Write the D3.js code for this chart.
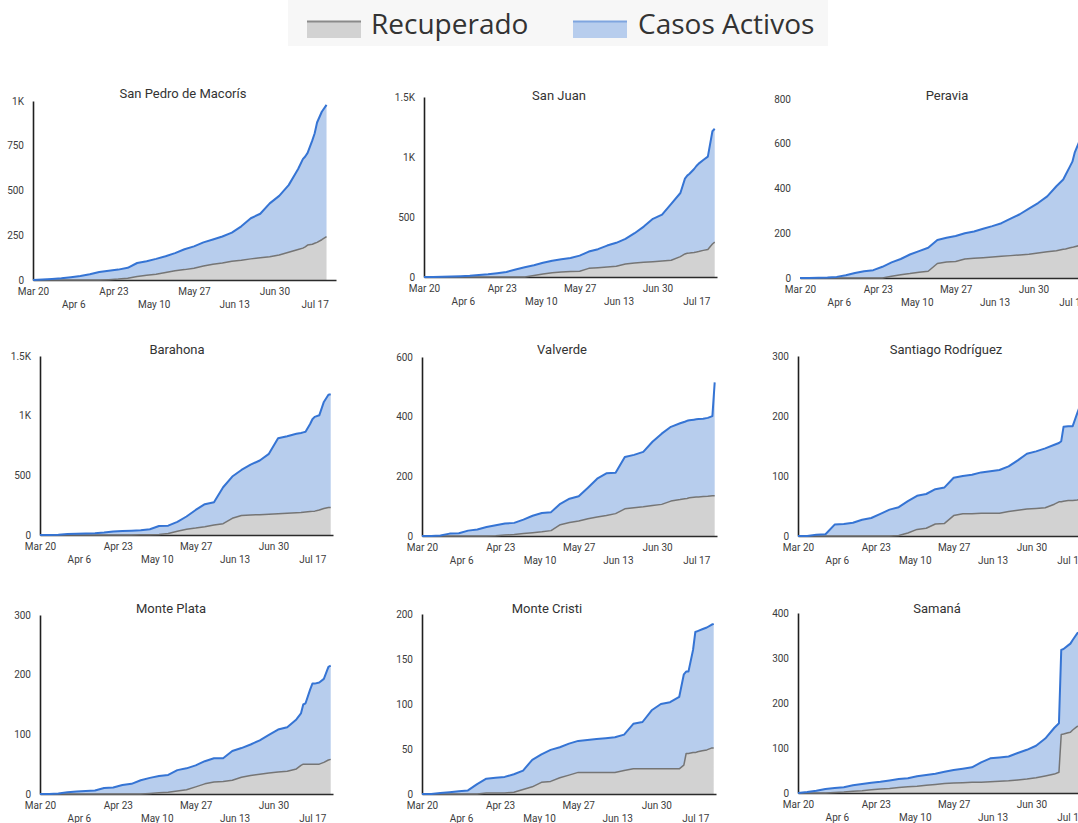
<!DOCTYPE html>
<html><head><meta charset="utf-8">
<script src="https://cdn.jsdelivr.net/npm/d3@7"></script>
<style>html,body{margin:0;padding:0;background:#fff;overflow:hidden}svg{display:block}</style>
</head><body>
<svg id="c" width="1078" height="823"></svg>
<script>
// ---------- DATA ----------
const dates = ["2020-03-20","2020-03-24","2020-03-28","2020-04-01","2020-04-05","2020-04-09","2020-04-13","2020-04-17",
  "2020-04-21","2020-04-25","2020-04-29","2020-05-03","2020-05-07","2020-05-11","2020-05-15","2020-05-19",
  "2020-05-23","2020-05-27","2020-05-31","2020-06-04","2020-06-08","2020-06-12","2020-06-16","2020-06-20",
  "2020-06-24","2020-06-28","2020-07-02","2020-07-06","2020-07-10","2020-07-12","2020-07-13","2020-07-14",
  "2020-07-16","2020-07-17","2020-07-18","2020-07-20","2020-07-22","2020-07-24","2020-07-25"];

const xTickDates = ["2020-03-20","2020-04-06","2020-04-23","2020-05-10","2020-05-27","2020-06-13","2020-06-30","2020-07-17"];
const seriesNames = ["Recuperado","Casos Activos"];
const provincias = ["San Pedro de Macorís","San Juan","Peravia","Barahona","Valverde","Santiago Rodríguez","Monte Plata","Monte Cristi","Samaná"];

const recSanPedro = [0,0,0,0,0,0,0,0,2,5,10,20,26,32,42,52,58,66,78,88,95,105,110,118,124,130,140,155,170,178,185,195,200,205,210,225,242,null,null];
const actSanPedro = [0,3,6,10,16,22,32,45,50,53,58,75,79,86,91,98,114,122,132,138,148,160,190,227,246,298,330,375,450,497,505,515,580,615,670,715,736,null,null];

const recSanJuan = [0,0,0,0,0,0,0,0,0,0,0,0,12,25,35,42,45,48,72,78,84,90,108,116,122,128,134,140,170,192,198,200,205,208,212,222,230,275,290];
const actSanJuan = [0,1,2,4,7,10,16,22,32,42,62,82,86,93,101,106,113,130,140,154,178,195,210,249,298,357,386,470,530,628,647,660,695,717,733,753,773,940,945];

const recPeravia = [0,0,0,0,0,0,0,0,0,0,8,15,20,26,30,65,72,74,85,88,91,94,97,100,103,106,112,117,122,126,128,130,135,137,140,145,148,150,152];
const actPeravia = [0,0,1,2,5,12,22,30,35,50,62,70,85,94,105,105,108,114,115,120,129,138,148,165,182,204,223,248,288,304,312,330,365,383,420,465,502,520,528];

const recBarahona = [0,0,0,0,0,0,0,0,0,0,0,2,3,4,12,32,48,58,70,84,95,140,163,168,170,174,178,182,186,188,190,192,196,198,200,210,222,230,230];
const actBarahona = [0,1,2,8,10,12,14,20,30,33,36,38,45,71,66,78,107,152,188,191,305,350,382,422,454,506,632,646,662,667,670,673,734,772,790,793,893,945,950];

const recValverde = [0,0,0,0,0,0,0,0,1,3,5,8,11,14,18,38,45,50,58,64,69,75,91,95,98,102,106,117,122,125,126,128,130,131,131,132,133,135,135];
const actValverde = [0,0,2,8,9,18,22,30,35,39,39,47,57,63,62,70,80,83,104,128,141,137,174,177,184,214,237,249,256,258,260,260,260,260,261,261,263,267,380];

const recSantiago = [0,0,0,0,0,0,0,0,0,0,0,1,5,11,13,20,21,34,37,37,38,38,38,41,43,45,46,47,53,57,57,58,59,59,59,60,62,63,63];
const actSantiago = [0,0,2,3,19,20,22,27,30,37,44,47,53,56,57,58,60,63,63,65,68,70,72,75,83,92,95,99,99,98,101,124,124,124,124,145,163,167,169];

const recMontePlata = [0,0,0,0,0,0,0,0,0,0,0,0,1,2,3,5,7,12,17,20,21,23,28,31,33,35,37,38,42,48,50,50,50,50,50,50,53,57,58];
const actMontePlata = [0,0,1,3,4,5,6,10,11,15,17,23,26,28,29,35,36,36,38,40,39,49,49,52,57,64,71,74,83,87,100,102,125,135,135,137,140,156,157];

const recMonteCristi = [0,0,0,0,0,0,0,1,1,1,2,5,8,13,14,18,21,24,24,24,24,24,26,28,28,28,28,28,28,32,45,45,46,46,47,48,49,51,51];
const actMonteCristi = [0,0,1,2,3,4,11,16,17,18,20,21,30,31,35,34,35,35,36,37,38,39,40,50,52,65,72,74,80,101,91,91,114,134,134,135,136,137,138];

const recSamana = [0,0,0,0,1,2,4,5,7,9,10,12,14,15,17,19,21,22,23,24,24,25,26,27,29,31,34,38,42,46,130,131,134,135,140,148,150,152,153];
const actSamana = [0,2,5,9,10,11,13,15,16,16,18,19,19,22,23,24,26,29,31,33,44,52,53,54,60,65,71,83,103,109,188,189,194,197,200,207,210,213,214];

const yTicksSanPedro = [0,250,500,750,1000];
const yTicksSanJuan = [0,500,1000,1500];
const yTicksPeravia = [0,200,400,600,800];
const yTicksBarahona = [0,500,1000,1500];
const yTicksValverde = [0,200,400,600];
const yTicksSantiago = [0,100,200,300];
const yTicksMontePlata = [0,100,200,300];
const yTicksMonteCristi = [0,50,100,150,200];
const yTicksSamana = [0,100,200,300,400];

// ---------- LAYOUT (positions only) ----------
const layout = [
  {axisX:33,  axisEnd:336,  baseY:280, topY:101, titleX:183, titleY:98,  yLine:true},
  {axisX:424, axisEnd:717,  baseY:277, topY:97,  titleX:559, titleY:100, yLine:true},
  {axisX:800, axisEnd:1093, baseY:278, topY:99,  titleX:947, titleY:100, yLine:false},
  {axisX:40,  axisEnd:333,  baseY:535, topY:356, titleX:177, titleY:354, yLine:true},
  {axisX:422, axisEnd:717,  baseY:536, topY:357, titleX:562, titleY:354, yLine:true},
  {axisX:798, axisEnd:1091, baseY:536, topY:356, titleX:946, titleY:354, yLine:true},
  {axisX:40,  axisEnd:333,  baseY:794, topY:615, titleX:171, titleY:613, yLine:true},
  {axisX:422, axisEnd:716,  baseY:794, topY:614, titleX:547, titleY:613, yLine:true},
  {axisX:798, axisEnd:1091, baseY:793, topY:613, titleX:937, titleY:613, yLine:true}
];

const charts = [
  {rec:recSanPedro, act:actSanPedro, ticks:yTicksSanPedro},
  {rec:recSanJuan, act:actSanJuan, ticks:yTicksSanJuan},
  {rec:recPeravia, act:actPeravia, ticks:yTicksPeravia},
  {rec:recBarahona, act:actBarahona, ticks:yTicksBarahona},
  {rec:recValverde, act:actValverde, ticks:yTicksValverde},
  {rec:recSantiago, act:actSantiago, ticks:yTicksSantiago},
  {rec:recMontePlata, act:actMontePlata, ticks:yTicksMontePlata},
  {rec:recMonteCristi, act:actMonteCristi, ticks:yTicksMonteCristi},
  {rec:recSamana, act:actSamana, ticks:yTicksSamana}
].map((c,i)=>Object.assign(c,{name:provincias[i]}));

// ---------- STYLE ----------
const grayFill = "#d2d2d2", grayLine = "#757575";
const blueFill = "#b7cded", blueLine = "#3574d4";
const textCol = "#3c3c3c";

const parse = d3.timeParse("%Y-%m-%d");
const xStart = parse("2020-03-20"), xEnd = parse("2020-07-26");
const svg = d3.select("#c");

// ---------- LEGEND ----------
const lg = svg.append("g");
lg.append("rect").attr("x",288).attr("y",0).attr("width",540).attr("height",46).attr("fill","#f7f7f7");
const legendItems = [
  {name:seriesNames[0], fill:grayFill, line:"#8a8a8a", sx:307, tx:371},
  {name:seriesNames[1], fill:blueFill, line:"#7fa5df", sx:573, tx:638}
];
legendItems.forEach(it=>{
  lg.append("rect").attr("x",it.sx).attr("y",21).attr("width",54).attr("height",17).attr("fill",it.fill);
  lg.append("line").attr("x1",it.sx).attr("x2",it.sx+54).attr("y1",21.5).attr("y2",21.5).attr("stroke",it.line).attr("stroke-width",2);
  lg.append("text").attr("x",it.tx).attr("y",34).attr("font-family","'Open Sans', sans-serif")
    .attr("font-size",28).attr("fill","#333").text(it.name);
});

// ---------- CHARTS ----------
const yFmt = v => v >= 1000 ? (v/1000) + "K" : String(v);

charts.forEach((c,i)=>{
  const L = layout[i];
  const g = svg.append("g");
  const x = d3.scaleTime().domain([xStart,xEnd]).range([L.axisX, L.axisEnd]);
  const y = d3.scaleLinear().domain([0, d3.max(c.ticks)]).range([L.baseY, L.topY]);
  const rows = dates.map((d,j)=>({date:parse(d), rec:c.rec[j], act:c.act[j]})).filter(r=>r.act!=null);
  const st = d3.stack().keys(["rec","act"])(rows);

  const area = d3.area().x(d=>x(d.data.date)).y0(d=>y(d[0])).y1(d=>y(d[1]));
  const line = d3.line().x(d=>x(d.data.date)).y(d=>y(d[1]));

  g.append("path").attr("d",area(st[0])).attr("fill",grayFill);
  g.append("path").attr("d",area(st[1])).attr("fill",blueFill);

  // x axis
  const xa = g.append("g").attr("transform",`translate(0,${L.baseY})`)
    .call(d3.axisBottom(x).tickValues(xTickDates.map(parse)).tickSize(0).tickSizeOuter(0)
      .tickFormat(d3.timeFormat("%b %-d")));
  xa.select(".domain").attr("stroke","#2b2b2b").attr("stroke-width",1.5);
  xa.selectAll("text").attr("font-family","Roboto, sans-serif").attr("font-size",10).attr("fill",textCol)
    .attr("dy",0).attr("y",(d,k)=> k%2 ? 28 : 15);

  // y axis
  const ya = g.append("g").attr("transform",`translate(${L.axisX},0)`)
    .call(d3.axisLeft(y).tickValues(c.ticks).tickSize(0).tickSizeOuter(0).tickPadding(9).tickFormat(yFmt));
  ya.select(".domain").attr("stroke", L.yLine ? "#1f1f1f" : "none").attr("stroke-width",1.6);
  ya.selectAll("text").attr("font-family","Roboto, sans-serif").attr("font-size",10).attr("fill",textCol);

  g.append("path").attr("d",line(st[0])).attr("fill","none").attr("stroke",grayLine).attr("stroke-width",1.5).attr("stroke-linejoin","round");
  g.append("path").attr("d",line(st[1])).attr("fill","none").attr("stroke",blueLine).attr("stroke-width",2).attr("stroke-linejoin","round");

  g.append("text").attr("x",L.titleX).attr("y",L.titleY).attr("text-anchor","middle")
    .attr("font-family","Roboto, sans-serif").attr("font-size",13).attr("fill","#333").text(c.name);
});
</script>
</body></html>
